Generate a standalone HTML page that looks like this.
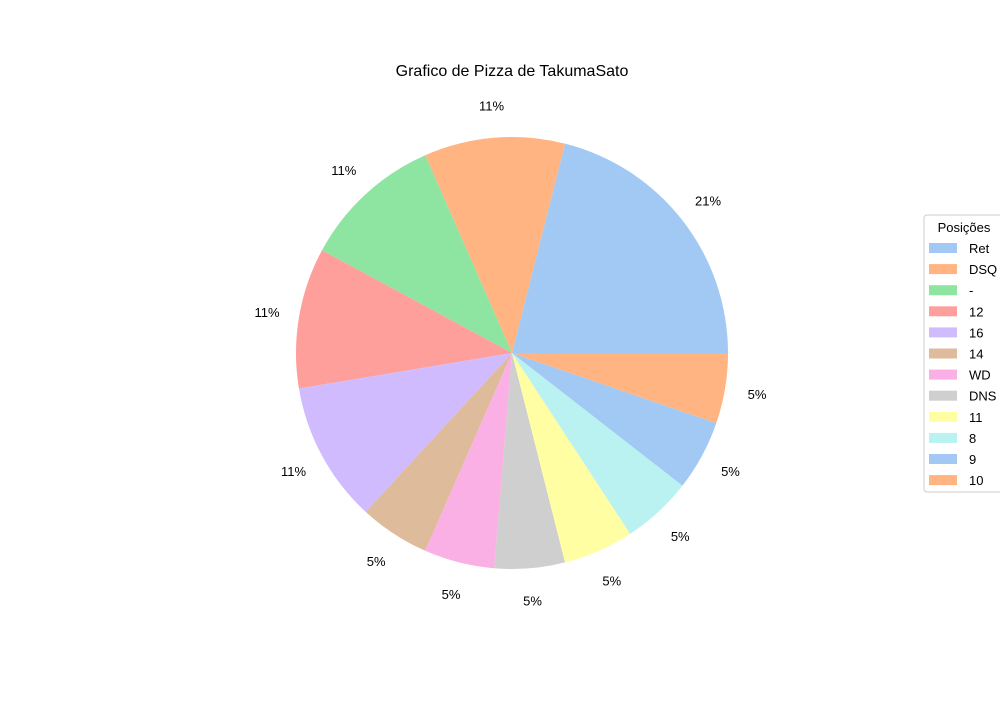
<!DOCTYPE html>
<html><head><meta charset="utf-8"><style>
body{margin:0;background:#fff;}
svg{font-family:"Liberation Sans","DejaVu Sans",sans-serif;}
</style></head><body>
<svg id="c" width="1000" height="700">
<text x="512" y="76" text-anchor="middle" font-size="16">Grafico de Pizza de TakumaSato</text>
<g id="slices"></g><g id="labels"></g>
<g id="legend">
<rect x="924" y="215" width="90" height="277" fill="#fff" stroke="#ccc" rx="3"/>
<text x="964" y="232" text-anchor="middle" font-size="13">Posições</text>
</g>
</svg>
<script>
const categories=["Ret","DSQ","-","12","16","14","WD","DNS","11","8","9","10"];
const values=[4,2,2,2,2,1,1,1,1,1,1,1];
const colors=["#a1c9f4","#ffb482","#8de5a1","#ff9f9b","#d0bbff","#debb9b","#fab0e4","#cfcfcf","#fffea3","#b9f2f0","#a1c9f4","#ffb482"];
const NS="http://www.w3.org/2000/svg";
const cx=512,cy=353,r=216;
const total=values.reduce((a,b)=>a+b,0);
let a0=0;
const sg=document.getElementById('slices'),lg=document.getElementById('labels'),leg=document.getElementById('legend');
values.forEach((v,i)=>{
  const a1=a0+v/total*2*Math.PI;
  const x0=cx+r*Math.cos(a0),y0=cy-r*Math.sin(a0),x1=cx+r*Math.cos(a1),y1=cy-r*Math.sin(a1);
  const p=document.createElementNS(NS,'path');
  p.setAttribute('d',`M${cx},${cy}L${x0},${y0}A${r},${r} 0 ${a1-a0>Math.PI?1:0} 0 ${x1},${y1}Z`);
  p.setAttribute('fill',colors[i]);
  
  
  sg.appendChild(p);
  const am=(a0+a1)/2;
  const t=document.createElementNS(NS,'text');
  t.setAttribute('x',cx+1.15*r*Math.cos(am));
  t.setAttribute('y',cy-1.15*r*Math.sin(am)+5);
  t.setAttribute('text-anchor','middle');
  t.setAttribute('font-size','13');
  t.textContent=Math.round(v/total*100)+'%';
  
  
  lg.appendChild(t);
  const y=248+i*21.1;
  const rc=document.createElementNS(NS,'rect');
  rc.setAttribute('x',929);rc.setAttribute('y',y-5);rc.setAttribute('width',28);rc.setAttribute('height',10);
  rc.setAttribute('fill',colors[i]);
  
  
  leg.appendChild(rc);
  const lt=document.createElementNS(NS,'text');
  lt.setAttribute('x',969);lt.setAttribute('y',y+5);lt.setAttribute('font-size','13');
  lt.textContent=categories[i];
  
  
  leg.appendChild(lt);
  a0=a1;
});
</script>
</body></html>
